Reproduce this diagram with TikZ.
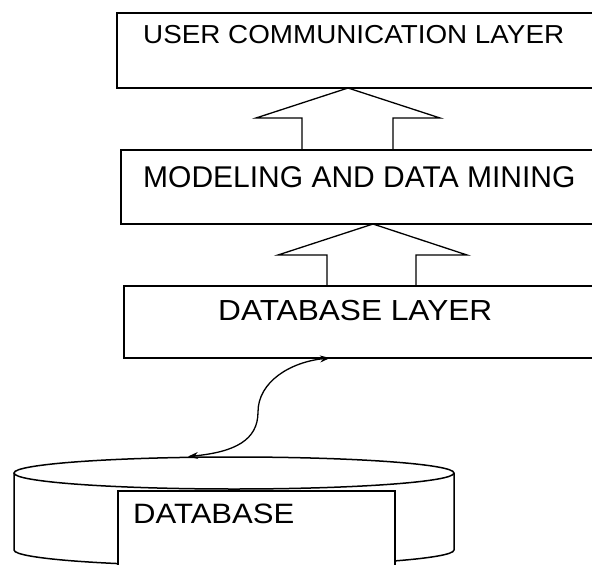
\documentclass[tikz,border=0pt]{standalone}
\usepackage{fontspec}
\setmainfont{Liberation Sans}
\usetikzlibrary{arrows.meta}
\begin{document}
\begin{tikzpicture}[x=1pt,y=-1pt,
  thickbox/.style={draw, line width=2.8pt, fill=white},
  thinbox/.style={draw, line width=1.5pt, fill=white},
  lbl/.style={inner sep=0pt, anchor=base west},
  hollow/.style={draw, line width=1.3pt, line join=miter},
  link/.style={draw, line width=1.3pt, {Stealth[length=10pt,width=7pt]}-{Stealth[length=10pt,width=7pt]}}
]
\useasboundingbox (0,0) rectangle (592,565);
\clip (0,0) rectangle (592,565);
\fill[white] (0,0) rectangle (592,565);

% boxes
\path[thickbox] (117,13) rectangle (620,88);
\coordinate (b1s) at (348,88);
\path[thickbox] (121,150) rectangle (620,224);
\coordinate (b2n) at (348,150);
\coordinate (b2s) at (373,224);
\path[thinbox] (124,286) rectangle (620,358);
\coordinate (b3n) at (373,286);
\coordinate (b3s) at (330,358);

% labels
\node[lbl] (t1) at (143,43) {\fontsize{26}{30}\selectfont\scalebox{1.07}[1]{USER COMMUNICATION LAYER}};
\node[lbl] (t2) at (143,187) {\fontsize{30}{34}\selectfont MODELING AND DATA MINING};
\node[lbl] (t3) at (218,320) {\fontsize{29}{33}\selectfont\scalebox{1.09}[1]{DATABASE LAYER}};

% hollow arrows
\draw[hollow] ([xshift=-46pt]b2n) -- ++(0,-32) -- ++(-46,0) -- (b1s) -- ++(92,30) -- ++(-47,0) -- ([xshift=45pt]b2n);
\draw[hollow] ([xshift=-46pt]b3n) -- ++(0,-31) -- ++(-49,0) -- (b2s) -- ++(94,31) -- ++(-51,0) -- ([xshift=43pt]b3n);

% cylinder
\draw[line width=1.5pt] (234,473) ellipse [x radius=220, y radius=16];
\draw[line width=1.5pt] (14,473) -- (14,550)
  .. controls (14,558.8) and (112.5,566) .. (234,566)
  .. controls (355.5,566) and (454,558.8) .. (454,550) -- (454,473);
\path[draw, line width=1.5pt, fill=white] (118,491) rectangle (395,580);
\coordinate (dbtop) at (188,456.5);
\node[lbl] (t4) at (133,523) {\fontsize{28}{32}\selectfont\scalebox{1.11}[1]{DATABASE}};

% link
\draw[link] (dbtop) .. controls (235,452) and (258,440) .. (258,412)
  .. controls (258,382) and (290,362) .. (b3s);
\end{tikzpicture}
\end{document}
